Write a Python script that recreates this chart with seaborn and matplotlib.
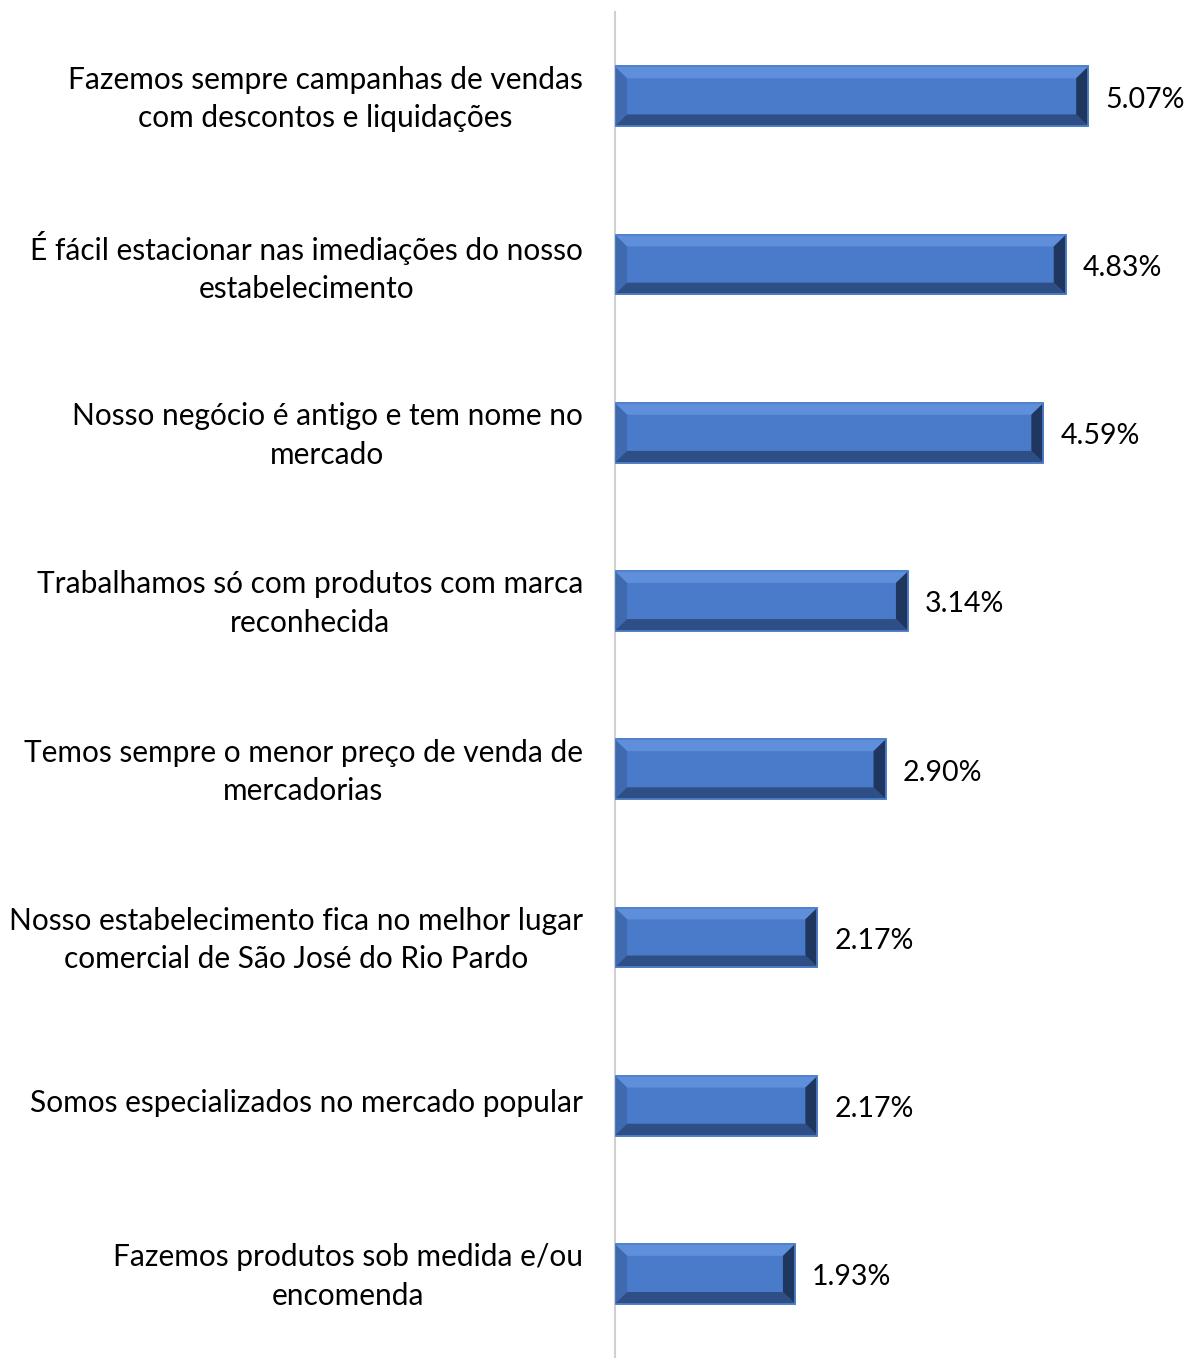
import pandas as pd
import seaborn as sns
import matplotlib.pyplot as plt
from matplotlib.patches import Polygon
from matplotlib.transforms import ScaledTranslation

# Dados
categorias = [
    'Fazemos sempre campanhas de vendas\ncom descontos e liquidações',
    'É fácil estacionar nas imediações do nosso\nestabelecimento',
    'Nosso negócio é antigo e tem nome no\nmercado',
    'Trabalhamos só com produtos com marca\nreconhecida',
    'Temos sempre o menor preço de venda de\nmercadorias',
    'Nosso estabelecimento fica no melhor lugar\ncomercial de São José do Rio Pardo',
    'Somos especializados no mercado popular',
    'Fazemos produtos sob medida e/ou\nencomenda',
]
valores = [5.07, 4.83, 4.59, 3.14, 2.90, 2.17, 2.17, 1.93]

df = pd.DataFrame({'categoria': categorias, 'valor': valores})

sns.set_style('white')
plt.rcParams['font.family'] = ['Lato', 'DejaVu Sans']

fig = plt.figure(figsize=(11.87, 13.58), dpi=100)
ax = fig.add_axes([0.518, 0.0, 0.472, 0.991])

sns.barplot(data=df, x='valor', y='categoria', orient='h', color='#4A7BCB',
            saturation=1, width=0.355, edgecolor='#4A7CC9', linewidth=1.2, ax=ax)

ax.set_xlim(0, 6.0)
ax.set_ylim(7.5, -0.5)

# efeito chanfrado (bevel) a partir da geometria de cada barra
dx, dy = 0.13, 0.07
for p in ax.patches:
    x0, y0 = p.get_x(), p.get_y()
    w, h = p.get_width(), p.get_height()
    x1, y1 = x0 + w, y0 + h
    # y cresce para baixo (eixo invertido): y0 = topo visual
    top = [(x0, y0), (x1, y0), (x1 - dx, y0 + dy), (x0 + dx, y0 + dy)]
    bottom = [(x0, y1), (x1, y1), (x1 - dx, y1 - dy), (x0 + dx, y1 - dy)]
    left = [(x0, y0), (x0 + dx, y0 + dy), (x0 + dx, y1 - dy), (x0, y1)]
    right = [(x1, y0), (x1 - dx, y0 + dy), (x1 - dx, y1 - dy), (x1, y1)]
    for pts, c in [(top, '#5F8FDB'), (left, '#3F6AB0'),
                   (bottom, '#2E4F86'), (right, '#1F375E')]:
        ax.add_patch(Polygon(pts, closed=True, facecolor=c, edgecolor='none', zorder=3))
    ax.add_patch(Polygon([(x0, y0), (x1, y0), (x1, y1), (x0, y1)], closed=True,
                         facecolor='none', edgecolor='#4F80CC', linewidth=1.2, zorder=4))

for i, v in enumerate(valores):
    ax.text(v + 0.18, i + 0.02, f'{v:.2f}%', va='center', ha='left', fontsize=20.5, color='black')

ax.set_xlabel('')
ax.set_ylabel('')
ax.set_xticks([])
ax.tick_params(axis='y', length=0, pad=23, labelsize=21.5, labelcolor='black')
shift = ScaledTranslation(0, 0.05, fig.dpi_scale_trans)
for lbl in ax.get_yticklabels():
    lbl.set_multialignment('center')
    lbl.set_linespacing(1.45)
    lbl.set_transform(lbl.get_transform() + shift)

for s in ['top', 'right', 'bottom']:
    ax.spines[s].set_visible(False)
ax.spines['left'].set_color('#D0D0D0')
ax.spines['left'].set_linewidth(1.5)

fig.savefig('out.png', dpi=100, facecolor='white')
